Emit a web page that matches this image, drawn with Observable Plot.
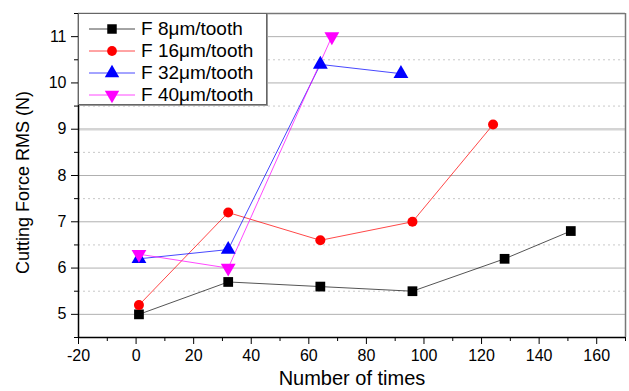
<!DOCTYPE html>
<html>
<head>
<meta charset="utf-8">
<script src="https://cdn.jsdelivr.net/npm/d3@7"></script>
<script src="https://cdn.jsdelivr.net/npm/@observablehq/plot@0.6"></script>
<style>
  html, body { margin: 0; padding: 0; background: #fff; }
  #wrap { position: relative; width: 629px; height: 391px; font-family: "Liberation Sans", Arial, sans-serif; }
  #legend { position: absolute; left: 78px; top: 13px; width: 189px; height: 92px; background: #fff;
    border: 1px solid #666; box-shadow: 1px 1px 0 #999; box-sizing: border-box; }
  .item { position: absolute; left: 10px; height: 22px; display: flex; align-items: center; font-size: 19px; color: #000; }
  .item span { margin-left: 6px; }
</style>
</head>
<body>
<div id="wrap"></div>
<script>
const seriesNames = ["F 8\u03bcm/tooth", "F 16\u03bcm/tooth", "F 32\u03bcm/tooth", "F 40\u03bcm/tooth"];
const seriesColors = ["#000000", "#ff0000", "#0000ff", "#ff00ff"];
const seriesSymbols = ["square", "circle", "triangle", "triangle"];
const seriesRotate = [0, 0, 0, 180];

const x8 = [1, 32, 64, 96, 128, 151];
const y8 = [5.0, 5.7, 5.6, 5.5, 6.2, 6.8];
const x16 = [1, 32, 64, 96, 124];
const y16 = [5.2, 7.2, 6.6, 7.0, 9.1];
const x32 = [1, 32, 64, 92];
const y32 = [6.2, 6.4, 10.4, 10.2];
const x40 = [1, 32, 68];
const y40 = [6.3, 6.0, 11.0];

const xTicks = [-20, 0, 20, 40, 60, 80, 100, 120, 140, 160];
const xMinor = [-10, 10, 30, 50, 70, 90, 110, 130, 150, 170];
const yTicks = [5, 6, 7, 8, 9, 10, 11];
const yMinor = [4.5, 5.5, 6.5, 7.5, 8.5, 9.5, 10.5, 11.5];
const xLabel = "Number of times";
const yLabel = "Cutting Force RMS (N)";

const xs = [x8, x16, x32, x40];
const ys = [y8, y16, y32, y40];
const data = [];
xs.forEach((xa, s) => xa.forEach((xv, i) => data.push({s, x: xv, y: ys[s][i]})));

const lineMarks = [0,1,2,3].map(s => Plot.line(data.filter(d => d.s === s), {x: "x", y: "y", stroke: seriesColors[s], strokeWidth: 0.9, strokeOpacity: s === 0 ? 0.75 : 0.8}));
const dotMarks = [0,1,2,3].map(s => Plot.dot(data.filter(d => d.s === s), {x: "x", y: "y", fill: seriesColors[s], stroke: "none", symbol: () => seriesSymbols[s], r: s === 1 ? 5 : 5.5, rotate: seriesRotate[s]}));

const fmt = d => String(d);

const chart = Plot.plot({
  width: 629, height: 391,
  marginLeft: 78, marginRight: 4, marginTop: 13, marginBottom: 54,
  style: {fontFamily: "Liberation Sans, Arial, sans-serif", fontSize: "15px", color: "#000", background: "#fff"},
  x: {domain: [-20, 170]},
  y: {domain: [4.5, 11.5]},
  symbol: {type: "identity"},
  marks: [
    Plot.ruleY(yTicks.filter(v => v !== 9), {stroke: "#b0b0b0", strokeWidth: 1}),
    Plot.ruleY([9], {stroke: "#d4d4d4", strokeWidth: 2.5}),
    Plot.ruleY(yMinor.slice(1, -1), {stroke: "#c8c8c8", strokeWidth: 1, strokeDasharray: "2,3"}),
    Plot.ruleX([170], {stroke: "#777", strokeWidth: 1.5}),
    Plot.ruleY([11.5], {stroke: "#777", strokeWidth: 1.5}),
    Plot.axisX({ticks: xTicks, tickSize: 7, tickPadding: 5, fontSize: 16, tickFormat: fmt, label: null}),
    Plot.axisX({ticks: xMinor, tickSize: 4, text: null, label: null}),
    Plot.axisY({ticks: yTicks, tickSize: 7, tickPadding: 5, fontSize: 16, tickFormat: fmt, label: null}),
    Plot.axisY({ticks: yMinor, tickSize: 4, text: null, label: null}),
    Plot.text([xLabel], {text: d => d, frameAnchor: "bottom", textAnchor: "middle", dy: 47, fontSize: 20, fill: "#000"}),
    Plot.text([yLabel], {text: d => d, frameAnchor: "left", textAnchor: "middle", rotate: -90, dx: -55, dy: 7, fontSize: 18, fill: "#000"}),
    Plot.ruleX([-20], {stroke: "#000", strokeWidth: 1.5}),
    Plot.ruleY([4.5], {stroke: "#000", strokeWidth: 1.5}),
    ...lineMarks,
    ...dotMarks
  ]
});
const wrap = document.getElementById("wrap");
wrap.appendChild(chart);

const legend = document.createElement("div");
legend.id = "legend";
seriesNames.forEach((name, i) => {
  const item = document.createElement("div");
  item.className = "item";
  item.style.top = (4 + i * 22) + "px";
  const sym = d3.symbol(seriesSymbols[i] === "square" ? d3.symbolSquare : seriesSymbols[i] === "circle" ? d3.symbolCircle : d3.symbolTriangle, seriesSymbols[i] === "circle" ? 75 : 90)();
  item.innerHTML = `<svg width="46" height="22"><line x1="0" x2="46" y1="11" y2="11" stroke="${seriesColors[i]}" stroke-width="0.9" stroke-opacity="0.8"/><path d="${sym}" transform="translate(23,11) rotate(${seriesRotate[i]})" fill="${seriesColors[i]}"/></svg><span>${name}</span>`;
  legend.appendChild(item);
});
wrap.appendChild(legend);
</script>
</body>
</html>
